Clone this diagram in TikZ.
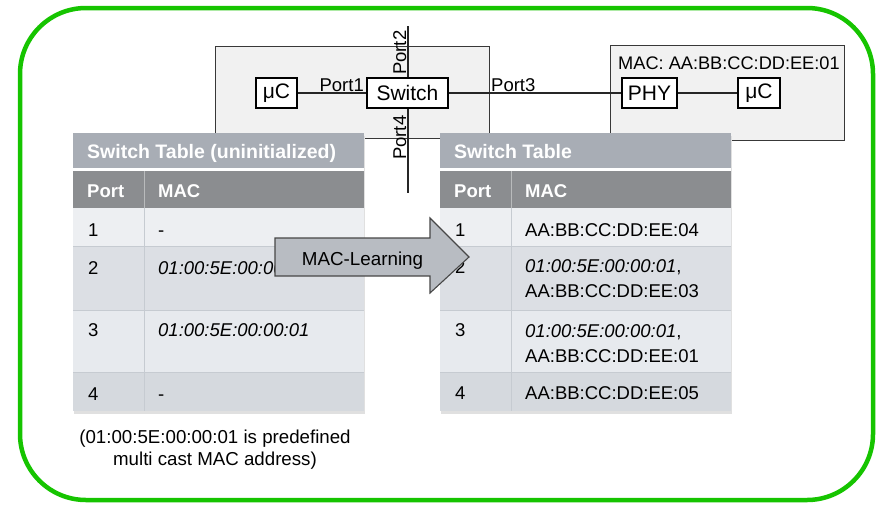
\documentclass[tikz,border=0pt]{standalone}
\usepackage{fontspec}
\setmainfont{Liberation Sans}
\definecolor{greenc}{RGB}{22,196,0}
\definecolor{titlec}{HTML}{A8ADB5}
\definecolor{colc}{HTML}{8B8D90}
\definecolor{rowa}{HTML}{EDEFF2}
\definecolor{rowb}{HTML}{DCDFE4}
\definecolor{rowc}{HTML}{E7EAEE}
\definecolor{rowd}{HTML}{D5D9DE}
\definecolor{sepc}{HTML}{C6CBD1}
\definecolor{devfill}{HTML}{F1F1F1}
\definecolor{arrowfill}{HTML}{B8BCC2}
\newcommand\tblbg[1]{%
\begin{scope}[shift={(#1,0)}]
 \fill[black!12] (1,136) rectangle (292,413.5);
 \fill[titlec] (0,133) rectangle (291,168);
 \fill[white] (0,168) rectangle (291,171);
 \fill[colc] (0,171) rectangle (291,208);
 \fill[rowa] (0,208) rectangle (291,246);
 \fill[rowb] (0,246) rectangle (291,310);
 \fill[rowc] (0,310) rectangle (291,372);
 \fill[rowd] (0,372) rectangle (291,411);
 \draw[sepc, line width=0.8] (0,246) -- (291,246) (0,310) -- (291,310) (0,372) -- (291,372);
 \draw[sepc, line width=0.8] (71,208) -- (71,411);
 \draw[colc!60, line width=0.8] (71,171) -- (71,208);
\end{scope}}
\begin{document}
\begin{tikzpicture}[x=1pt,y=-1pt,
  ttext/.style={font=\fontsize{18.5}{25}\selectfont, inner sep=0, anchor=base west},
  thead/.style={font=\fontsize{18.5}{25}\selectfont\bfseries, text=white, inner sep=0, anchor=base west},
  box/.style={draw=black, line width=1.3, fill=white, inner sep=0, minimum height=30, font=\fontsize{21}{25}\selectfont},
  portl/.style={font=\fontsize{18.5}{22}\selectfont, inner sep=0},
  devbox/.style={draw=black!78, line width=1, fill=devfill},
  conn/.style={line width=1.3, draw=black!85}]
\useasboundingbox (0,0) rectangle (877,504);
\draw[greenc, line width=4.5, rounded corners=66] (20,8) rectangle (873,500);
% device boxes
\draw[devbox] (215,46) rectangle (489,138);
\draw[devbox] (610,45) rectangle (844,140);
% vertical port line
\coordinate (vt) at (408,26);
\coordinate (vb) at (408,193);
\draw[conn] (vt) -- (vb);
% nodes
\node[box, minimum width=41] (uc1) at (276.5,93) {μC};
\node[box, minimum width=81] (sw) at (407.5,93) {Switch};
\node[box, minimum width=55] (phy) at (649.5,93) {PHY};
\node[box, minimum width=42] (uc2) at (759,93) {μC};
\draw[conn] (uc1) -- (sw);
\draw[conn] (sw) -- (phy);
\draw[conn] (phy) -- (uc2);
\node[portl, anchor=base east] (p1) at (364,91) {Port1};
\node[portl, anchor=base west] (p3) at (491,91) {Port3};
\node[portl, anchor=base west, rotate=90] (p2) at (406,75) {Port2};
\node[portl, anchor=base west, rotate=90] (p4) at (406,160) {Port4};
\node[font=\fontsize{18.2}{22}\selectfont, inner sep=0, anchor=base west] (mac) at (618,69) {MAC: AA:BB:CC:DD:EE:01};
% tables
\tblbg{73}
\tblbg{440}
% left table text
\node[thead, font=\fontsize{19.5}{25}\selectfont\bfseries] (lt) at (87,158) {Switch Table (uninitialized)};
\node[thead] (lph) at (87,197) {Port};
\node[thead] (lmh) at (158,197) {MAC};
\node[ttext] (l1p) at (88,236) {1};
\node[ttext] (l1m) at (158,236) {-};
\node[ttext] (l2p) at (88,274) {2};
\node[ttext] (l2m) at (158,274) {\itshape 01:00:5E:00:00:01};
\node[ttext] (l3p) at (88,336) {3};
\node[ttext] (l3m) at (158,336) {\itshape 01:00:5E:00:00:01};
\node[ttext] (l4p) at (88,400) {4};
\node[ttext] (l4m) at (158,400) {-};
% right table text
\node[thead, font=\fontsize{19.5}{25}\selectfont\bfseries] (rt) at (454,158) {Switch Table};
\node[thead] (rph) at (454,197) {Port};
\node[thead] (rmh) at (525,197) {MAC};
\node[ttext] (r1p) at (455,236) {1};
\node[ttext] (r1m) at (525,236) {AA:BB:CC:DD:EE:04};
\node[ttext] (r2p) at (455,273) {2};
\node[ttext] (r2m) at (525,272) {\textit{01:00:5E:00:00:01},};
\node[ttext] (r2n) at (525,297) {AA:BB:CC:DD:EE:03};
\node[ttext] (r3p) at (455,336) {3};
\node[ttext] (r3m) at (525,337) {\textit{01:00:5E:00:00:01},};
\node[ttext] (r3n) at (525,362) {AA:BB:CC:DD:EE:01};
\node[ttext] (r4p) at (455,399) {4};
\node[ttext] (r4m) at (525,399) {AA:BB:CC:DD:EE:05};
% arrow
\draw[fill=arrowfill, draw=black!72, line width=1.1, line join=miter]
  (275,238) -- (430,238) -- (430,218) -- (469,257) -- (430,293) -- (430,276) -- (275,276) -- cycle;
\node[font=\fontsize{18.8}{22}\selectfont, inner sep=0, anchor=base] (ml) at (362.5,265) {MAC-Learning};
% footnote
\node[font=\fontsize{18.7}{22}\selectfont, inner sep=0, anchor=base] (fn1) at (215,443) {(01:00:5E:00:00:01 is predefined};
\node[font=\fontsize{18.7}{22}\selectfont, inner sep=0, anchor=base] (fn2) at (215,465) {multi cast MAC address)};
\end{tikzpicture}
\end{document}
